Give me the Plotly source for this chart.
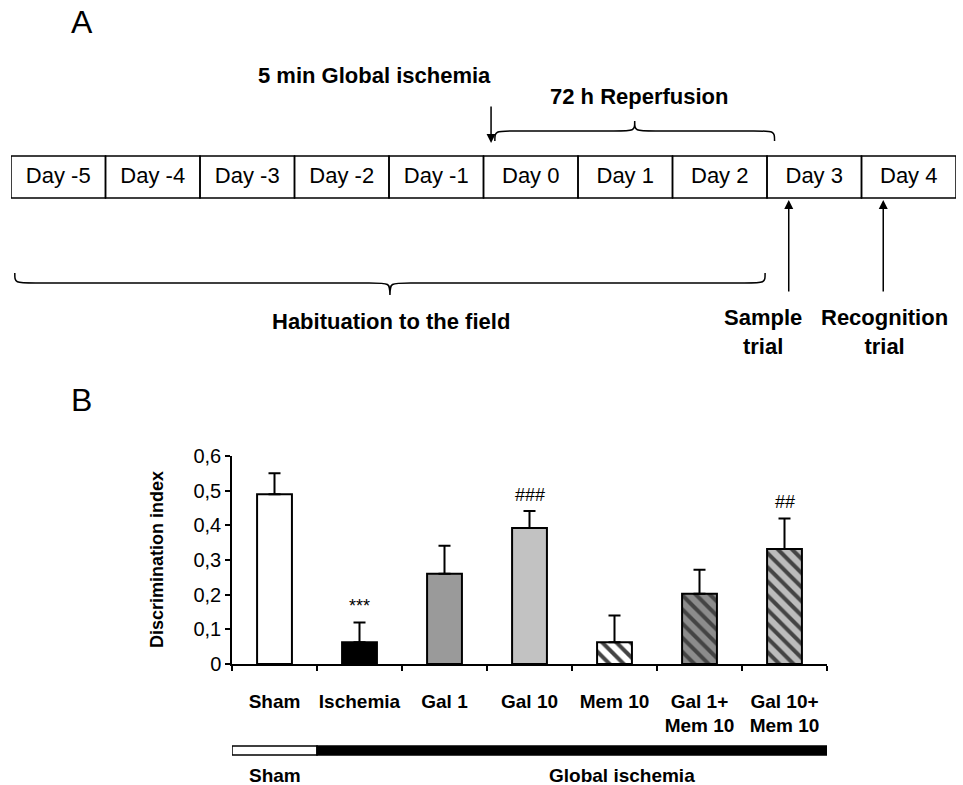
import plotly.graph_objects as go

# ---------------- Panel A data ----------------
days = [-5, -4, -3, -2, -1, 0, 1, 2, 3, 4]
day_labels = ["Day %d" % d for d in days]
ischemia_day = 0
reperfusion_days = [0, 1, 2]
habituation_days = [-5, -4, -3, -2, -1, 0, 1, 2]
sample_day = 3
recognition_day = 4

# ---------------- Panel B data ----------------
groups = ["Sham", "Ischemia", "Gal 1", "Gal 10", "Mem 10",
          "Gal 1+<br>Mem 10", "Gal 10+<br>Mem 10"]
means = [0.49, 0.063, 0.26, 0.392, 0.063, 0.203, 0.332]
sems = [0.06, 0.057, 0.081, 0.049, 0.077, 0.069, 0.088]
sig_marks = ["", "***", "", "###", "", "", "##"]
conditions = ["Sham", "Global ischemia", "Global ischemia", "Global ischemia",
              "Global ischemia", "Global ischemia", "Global ischemia"]
fill_colors = ["#ffffff", "#000000", "#9a9a9a", "#c2c2c2", "#ffffff", "#8c8c8c", "#bcbcbc"]
hatch = ["", "", "", "", "\\", "\\", "\\"]
y_tickvals = [0, 0.1, 0.2, 0.3, 0.4, 0.5, 0.6]
y_ticktext = ["0", "0,1", "0,2", "0,3", "0,4", "0,5", "0,6"]

W, H = 963, 785
FONT = "Liberation Sans, Arial, sans-serif"


def py(p):
    return 1 - p / H


fig = go.Figure()

# Bar chart
fig.add_trace(go.Bar(
    x=groups, y=means, width=0.41,
    marker=dict(color=fill_colors, line=dict(color="black", width=2),
                pattern=dict(shape=hatch, fgcolor="black", bgcolor=fill_colors,
                             fgopacity=1, size=10, solidity=0.4)),
    error_y=dict(type="data", symmetric=False, array=sems,
                 arrayminus=[0] * len(sems), color="black", thickness=2, width=6),
    showlegend=False, hoverinfo="skip",
))

# Timeline day labels (panel A)
fig.add_trace(go.Scatter(
    x=days, y=[177] * len(days), mode="text", text=day_labels,
    textfont=dict(size=22, color="black", family=FONT),
    xaxis="x2", yaxis="y2", showlegend=False, hoverinfo="skip", cliponaxis=False,
))

shapes = []
# Timeline boxes
for d in days:
    shapes.append(dict(type="rect", xref="x2", yref="y2", x0=d - 0.5, x1=d + 0.5,
                       y0=156, y1=198, line=dict(color="black", width=1.5)))


def brace(x0, x1, ye, yl, yt, dx=0.22):
    xm = (x0 + x1) / 2
    return ("M {a},{ye} C {a},{yl} {a},{yl} {b},{yl} L {c},{yl} C {m},{yl} {m},{yl} {m},{yt} "
            "C {m},{yl} {m},{yl} {d},{yl} L {e},{yl} C {f},{yl} {f},{yl} {f},{ye}").format(
        a=x0, b=x0 + dx, c=xm - dx, m=xm, d=xm + dx, e=x1 - dx, f=x1, ye=ye, yl=yl, yt=yt)


shapes.append(dict(type="path", xref="x2", yref="y2",
                   path=brace(min(reperfusion_days) - 0.38, max(reperfusion_days) + 0.58, 141, 131, 121),
                   line=dict(color="black", width=1.5)))
shapes.append(dict(type="path", xref="x2", yref="y2",
                   path=brace(min(habituation_days) - 0.46, max(habituation_days) + 0.48, 273, 283, 295),
                   line=dict(color="black", width=1.5)))

# Condition bar under panel B
first_isch = conditions.index("Global ischemia")
shapes.append(dict(type="rect", xref="x", yref="paper", x0=-0.5, x1=first_isch - 0.5,
                   y0=py(755), y1=py(746), fillcolor="white", line=dict(color="black", width=1.5)))
shapes.append(dict(type="rect", xref="x", yref="paper", x0=first_isch - 0.5, x1=len(conditions) - 0.5,
                   y0=py(755), y1=py(746), fillcolor="black", line=dict(color="black", width=1.5)))

ann = []
# Arrows
ann.append(dict(xref="x2", yref="y2", axref="x2", ayref="y2",
                x=ischemia_day - 0.42, y=143, ax=ischemia_day - 0.42, ay=105,
                text="", showarrow=True, arrowhead=2, arrowsize=1.2, arrowwidth=1.5, arrowcolor="black"))
for d in (sample_day, recognition_day):
    ann.append(dict(xref="x2", yref="y2", axref="x2", ayref="y2",
                    x=d - 0.27, y=200, ax=d - 0.27, ay=293,
                    text="", showarrow=True, arrowhead=2, arrowsize=1.2, arrowwidth=1.5, arrowcolor="black"))

bold = dict(size=22, color="black", family=FONT)
C = dict(xanchor="center", yanchor="middle", showarrow=False)
ann.append(dict(xref="x2", yref="y2", x=-1.65, y=75, text="<b>5 min Global ischemia</b>", font=bold, **C))
ann.append(dict(xref="x2", yref="y2", x=1.15, y=96, text="<b>72 h Reperfusion</b>", font=bold, **C))
ann.append(dict(xref="x2", yref="y2", x=-1.48, y=321, text="<b>Habituation to the field</b>", font=bold, **C))
ann.append(dict(xref="x2", yref="y2", x=sample_day - 0.54, y=332, text="<b>Sample<br>trial</b>",
                font=bold, **C))
ann.append(dict(xref="x2", yref="y2", x=recognition_day - 0.26, y=332, text="<b>Recognition<br>trial</b>",
                font=bold, **C))

# Panel letters
ann.append(dict(xref="paper", yref="paper", x=82 / W, y=py(22), text="A",
                font=dict(size=32, color="black", family=FONT), **C))
ann.append(dict(xref="paper", yref="paper", x=81 / W, y=py(400), text="B",
                font=dict(size=32, color="black", family=FONT), **C))

# Y-axis title
ann.append(dict(xref="paper", yref="paper", x=157 / W, y=py(560), text="<b>Discrimination index</b>",
                textangle=-90, font=dict(size=18, color="black", family=FONT), **C))

# Significance marks
for i, s in enumerate(sig_marks):
    if s:
        ann.append(dict(xref="x", yref="y", x=i, y=means[i] + sems[i], xanchor="center",
                        yanchor="bottom", yshift=4, text=s, showarrow=False,
                        font=dict(size=18, color="black", family=FONT)))

# Condition labels
ann.append(dict(xref="x", yref="paper", x=0, y=py(775), text="<b>Sham</b>",
                font=dict(size=19, color="black", family=FONT), **C))
ann.append(dict(xref="x", yref="paper", x=4.09, y=py(775), text="<b>Global ischemia</b>",
                font=dict(size=19, color="black", family=FONT), **C))

fig.update_layout(
    width=W, height=H, margin=dict(l=0, r=0, t=0, b=0, autoexpand=False),
    paper_bgcolor="white", plot_bgcolor="rgba(0,0,0,0)",
    font=dict(family=FONT, color="black"),
    shapes=shapes, annotations=ann, showlegend=False,
    xaxis=dict(domain=[232 / W, 827 / W], range=[-0.5, 6.5], type="category", automargin=False,
               showline=True, linecolor="black", linewidth=1.5, showgrid=False, zeroline=False,
               ticks="outside", tickson="boundaries", ticklen=5, tickcolor="black", tickwidth=1.5,
               tickangle=0,
               tickfont=dict(size=19, color="black", family=FONT, weight="bold"),
               ticklabelstandoff=19, anchor="y"),
    yaxis=dict(domain=[py(664), py(456)], range=[0, 0.6], showline=True, linecolor="black",
               automargin=False,
               linewidth=1.5, showgrid=False, zeroline=False, ticks="outside", ticklen=5,
               tickcolor="black", tickwidth=1.5, tickvals=y_tickvals, ticktext=y_ticktext,
               tickfont=dict(size=20, color="black", family=FONT), anchor="x"),
    xaxis2=dict(domain=[11 / W, 956 / W], range=[-5.5, 4.5], visible=False, anchor="y2",
                automargin=False),
    yaxis2=dict(domain=[0, 1], range=[H, 0], visible=False, anchor="x2", automargin=False),
)

fig.write_html("out.html", config={"displayModeBar": False},
               post_script="document.body.style.margin='0';document.body.style.padding='0';")
